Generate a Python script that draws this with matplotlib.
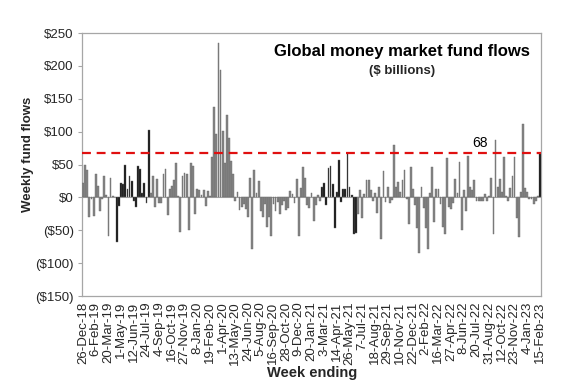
import matplotlib
matplotlib.use("Agg")
import matplotlib.pyplot as plt
import numpy as np

plt.rcParams["font.family"] = ["Liberation Sans", "DejaVu Sans"]

# ── Data ($ billions, weekly) ────────────────────────────────────────────────
flows = [
    22, 50, 41, -30, -3, -28, 35, 17, -20, -2,
    32, 3, -59, 30, 2, 1, -68, -13, 22, 21,
    50, 12, 32, 25, -5, -15, 47, 43, 6, 22,
    -9, 103, 7, 33, -14, 28, -9, -8, 36, 43,
    -27, 12, 18, 27, 52, 2, -53, 33, 37, 36,
    -49, 52, 48, -26, 12, 11, 3, 11, -13, 10,
    2, 62, 137, 96, 235, 194, 101, 52, 126, 91,
    55, 36, -5, 8, -19, -15, -10, -17, -30, 30,
    -78, 41, 6, 25, -21, -30, -10, -45, -30, -59,
    -10, -20, -7, -26, -12, -5, -19, -16, 10, 5,
    -9, 28, -59, 15, 46, 30, -11, -16, 7, -36,
    -12, 3, -5, 16, 22, -11, 45, 48, 21, -47,
    8, 57, -7, 13, 13, 68, 16, 3, -56, -54,
    -26, 11, -31, 5, 26, 26, 11, -6, 6, -24,
    16, -63, 40, -7, 16, -9, -4, 80, 16, 23,
    8, 27, 42, -2, -40, 46, 12, -12, -46, -84,
    16, -16, -46, -79, 6, 46, -37, 13, 13, -10,
    -45, -56, 60, -15, -17, -9, 28, 6, 54, -50,
    11, -20, 63, 16, 11, 27, -6, -6, -6, -6,
    5, -5, 2, 30, -55, 88, 16, 28, 8, 61,
    2, -5, 15, 32, 62, -32, -60, 8, 112, 15,
    8, -2, -2, -10, -5, 2, 68,
]

# highlighted weeks (drawn in black)
highlight = list(range(16, 32)) + list(range(113, 130)) + [216]

tick_labels = [
    "26-Dec-18", "6-Feb-19", "20-Mar-19", "1-May-19", "12-Jun-19", "24-Jul-19",
    "4-Sep-19", "16-Oct-19", "27-Nov-19", "8-Jan-20", "19-Feb-20", "1-Apr-20",
    "13-May-20", "24-Jun-20", "5-Aug-20", "16-Sep-20", "28-Oct-20", "9-Dec-20",
    "20-Jan-21", "3-Mar-21", "14-Apr-21", "26-May-21", "7-Jul-21", "18-Aug-21",
    "29-Sep-21", "10-Nov-21", "22-Dec-21", "2-Feb-22", "16-Mar-22", "27-Apr-22",
    "8-Jun-22", "20-Jul-22", "31-Aug-22", "12-Oct-22", "23-Nov-22", "4-Jan-23",
    "15-Feb-23",
]
tick_step = 6

threshold = 68
y_ticks = [250, 200, 150, 100, 50, 0, -50, -100, -150]

# ── Palette ──────────────────────────────────────────────────────────────────
GRAY = "#858585"
GRAY_EDGE = "#6a6a6a"
DARK = "#111111"
FRAME = "#a6a6a6"
TEXT = "#262626"
RED = "#e01010"


def money(v):
    return f"${v}" if v >= 0 else f"(${-v})"


fig = plt.figure(figsize=(5.75, 3.87), dpi=100, facecolor="white")
ax = fig.add_axes([0.1426, 0.2351, 0.7983, 0.6796])

x = np.arange(len(flows))
colors = [DARK if i in highlight else GRAY for i in x]
ax.bar(x, flows, width=0.85, color=colors, edgecolor=GRAY_EDGE,
       linewidth=0.3, zorder=3)

ax.axhline(0, color=FRAME, linewidth=0.8, zorder=2)
ax.axhline(threshold, color=RED, linewidth=1.6, linestyle=(0, (4, 2.6)), zorder=4)
ax.text(187.7, threshold + 4, str(threshold), ha="center", va="bottom",
        fontsize=10, color="black", zorder=5)

ax.set_xlim(-0.5, len(flows) - 0.5)
ax.set_ylim(-150, 250)
ax.set_yticks(y_ticks)
ax.set_yticklabels([money(v) for v in y_ticks], fontsize=9.5, color=TEXT)

ax.set_xticks(x[::tick_step])
ax.set_xticklabels(tick_labels, rotation=90, fontsize=9.5, color=TEXT)
ax.tick_params(axis="x", length=0, pad=4)
ax.tick_params(axis="y", length=3, color=FRAME, pad=3)

for s in ax.spines.values():
    s.set_color(FRAME)
    s.set_linewidth(0.9)

fig.text(0.699, 0.866, "Global money market fund flows", ha="center",
         va="center", fontsize=12, fontweight="bold", color="black")
fig.text(0.699, 0.817, "($ billions)", ha="center", va="center",
         fontsize=9.5, fontweight="bold", color=TEXT)

fig.text(0.049, 0.60, "Weekly fund flows", rotation=90, ha="center",
         va="center", fontsize=9.5, fontweight="bold", color=TEXT)
fig.text(0.542, 0.036, "Week ending", ha="center", va="center",
         fontsize=10.5, fontweight="bold", color=TEXT)

fig.savefig("out.png", dpi=100, facecolor="white")
plt.close(fig)
